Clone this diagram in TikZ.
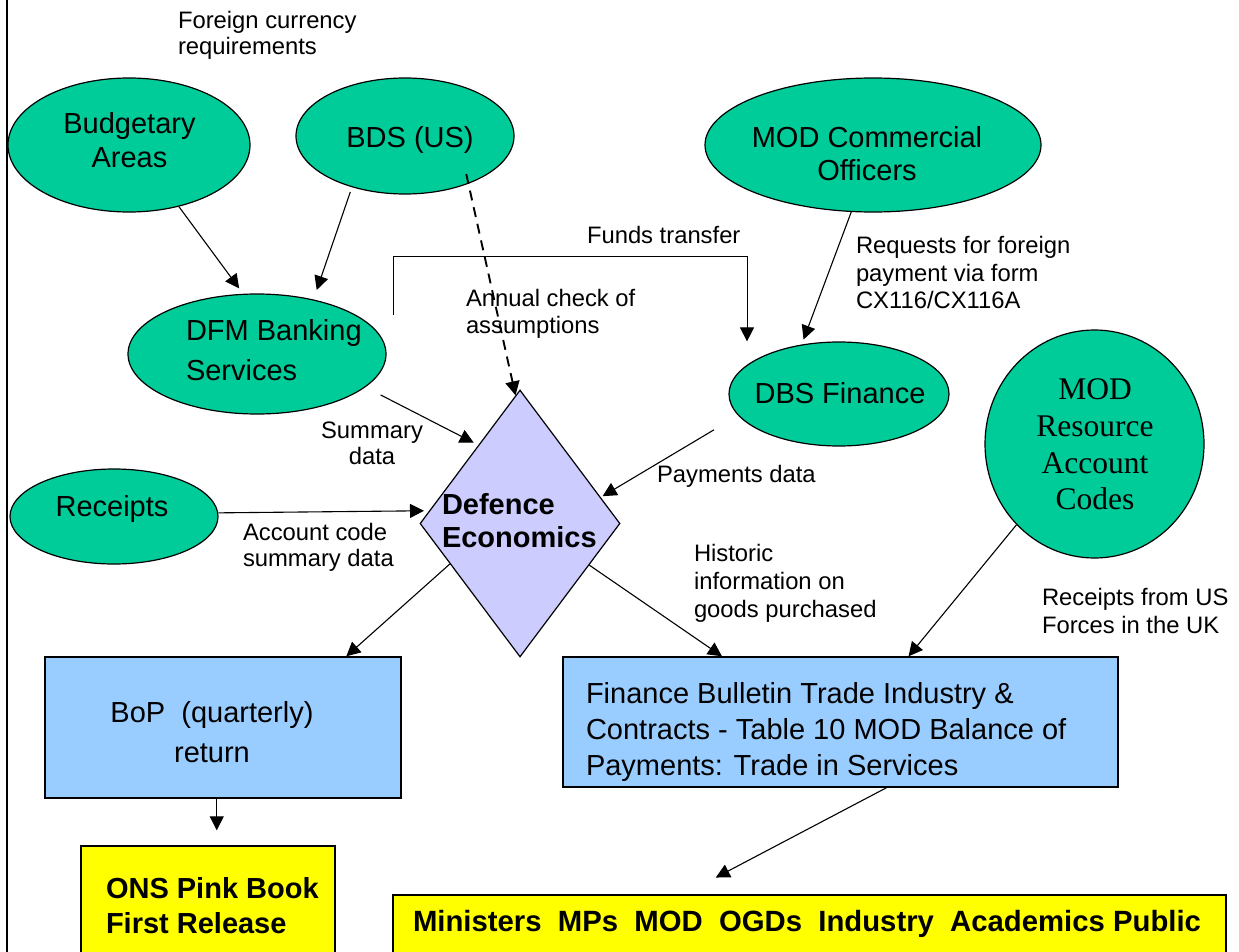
\documentclass[tikz,border=0pt]{standalone}
\usepackage{fontspec}
\setmainfont{Liberation Sans}
\newfontfamily\timesfam{Liberation Serif}
\usetikzlibrary{shapes.geometric,arrows.meta}
\definecolor{ovalgreen}{HTML}{00CC99}
\definecolor{diamondlilac}{HTML}{CCCCFF}
\definecolor{boxblue}{HTML}{99CCFF}
\definecolor{boxyellow}{HTML}{FFFF00}
\newcommand\mybigfont[1]{\fontsize{29}{#1}\selectfont}
\newcommand\mysmallfont[1]{\fontsize{23.8}{#1}\selectfont}
\begin{document}
\begin{tikzpicture}[x=1pt,y=-1pt,
  oval/.style={ellipse, draw=black, line width=1.2pt, fill=ovalgreen, inner sep=0pt},
  diam/.style={diamond, draw=black, line width=1.2pt, fill=diamondlilac, inner sep=0pt},
  bluebox/.style={rectangle, draw=black, line width=1.4pt, fill=boxblue, inner sep=0pt},
  yelbox/.style={rectangle, draw=black, line width=1.4pt, fill=boxyellow, inner sep=0pt},
  txt/.style={inner sep=0pt, outer sep=0pt, text=black},
  conn/.style={draw=black, line width=1.1pt, -{Triangle[length=14pt,width=14pt]}},
  dashconn/.style={conn, line width=1.9pt, dash pattern=on 10pt off 7pt},
]
\useasboundingbox (0,0) rectangle (1239,952);
\clip (0,0) rectangle (1239,952);
\fill[white] (0,0) rectangle (1239,952);
\draw[line width=2pt] (7,0) -- (7,952);

% shapes
\node[oval, minimum width=242pt, minimum height=134pt] (budget) at (129,145) {};
\node[oval, minimum width=218pt, minimum height=116pt] (bds) at (405,136) {};
\node[oval, minimum width=336pt, minimum height=134pt] (modcom) at (873,145) {};
\node[oval, minimum width=258pt, minimum height=120pt] (dfm) at (257,354) {};
\node[oval, minimum width=220pt, minimum height=104pt] (dbs) at (839,394) {};
\node[oval, minimum width=219pt, minimum height=228pt] (modres) at (1094.5,444) {};
\node[oval, minimum width=208pt, minimum height=95pt] (receipts) at (114,516.5) {};
\node[diam, minimum width=200pt, minimum height=267pt] (de) at (520,523.5) {};
\node[bluebox, minimum width=356pt, minimum height=141pt] (bop) at (223,727.5) {};
\node[bluebox, minimum width=555pt, minimum height=130pt] (fb) at (840.5,722) {};
\node[yelbox, minimum width=254pt, minimum height=134pt] (ons) at (208,913) {};
\node[yelbox, minimum width=833pt, minimum height=95pt] (mins) at (809.5,942.5) {};

% shape texts
\node[txt, align=center, font={\mybigfont{34}}] (budget-t) at (129.5,140) {Budgetary\\Areas};
\node[txt, font={\mybigfont{34}}] (bds-t) at (410,140) {BDS (US)};
\node[txt, align=center, font={\mybigfont{33}}] (modcom-t) at (867,153.5) {MOD Commercial\\Officers};
\node[txt, anchor=west, align=left, font={\mybigfont{40}}] (dfm-t) at (186,350) {DFM Banking\\Services};
\node[txt, font={\mybigfont{34}}] (dbs-t) at (840,393) {DBS Finance};
\node[txt, align=center, font={\timesfam\fontsize{31.5}{36.7}\selectfont}] (modres-t) at (1095,444.5) {MOD\\Resource\\Account\\Codes};
\node[txt, font={\mybigfont{34}}] (receipts-t) at (112,509) {Receipts};
\node[txt, anchor=west, align=left, font={\mybigfont{33}\bfseries}] (de-t) at (442,520.5) {Defence\\Economics};
\node[txt, align=center, font={\mybigfont{40}}] (bop-t) at (212,732) {BoP\ \ (quarterly)\\return};
\node[txt, anchor=west, align=left, font={\mybigfont{36}}] (fb-t) at (586,731.5) {Finance Bulletin Trade Industry \&\\Contracts - Table 10 MOD Balance of\\Payments: Trade in Services};
\node[txt, anchor=west, align=left, font={\mybigfont{35}\bfseries}] (ons-t) at (106,905.5) {ONS Pink Book\\First Release};
\node[txt, anchor=west, font={\fontsize{29.3}{35}\selectfont\bfseries}] (mins-t) at (413,924) {Ministers\ \ MPs\ \ MOD\ \ OGDs\ \ Industry\ \ Academics Public};

% connector labels
\node[txt, anchor=west, align=left, font={\mysmallfont{26}}] (fc-l) at (178,35) {Foreign currency\\requirements};
\node[txt, anchor=west, font={\mysmallfont{26}}] (ft-l) at (587,235) {Funds transfer};
\node[txt, anchor=west, align=left, font={\mysmallfont{27.5}}] (req-l) at (856,272.5) {Requests for foreign\\payment via form\\CX116/CX116A};
\node[txt, anchor=west, align=left, font={\mysmallfont{27}}] (ann-l) at (466,313.5) {Annual check of\\assumptions};
\node[txt, align=center, font={\mysmallfont{26}}] (sum-l) at (372,443) {Summary\\data};
\node[txt, anchor=west, font={\mysmallfont{26}}] (pay-l) at (657,476) {Payments data};
\node[txt, anchor=west, align=left, font={\mysmallfont{26}}] (acc-l) at (243,547) {Account code\\summary data};
\node[txt, anchor=west, align=left, font={\mysmallfont{28}}] (his-l) at (694,583) {Historic\\information on\\goods purchased};
\node[txt, anchor=west, align=left, font={\mysmallfont{28}}] (usf-l) at (1042,611) {Receipts from US\\Forces in the UK};

% connectors
\draw[conn, shorten >=6.6pt] (budget.-51) -- (dfm.103);
\draw[conn, shorten <=5pt, shorten >=10pt] (bds.-136) -- (dfm.44);
\draw[dashconn, shorten <=-10pt] (bds.-37) -- (de.92);
\coordinate (ftstart) at (393,315);
\coordinate (ftcorner) at (393,256);
\coordinate (ftend) at ([xshift=-92pt]dbs.north);
\draw[conn, line width=1pt] (ftstart) -- (ftcorner) -| (ftend);
\draw[conn, shorten >=5.3pt] (modcom.-108) -- (dbs.127);
\draw[conn, shorten <=17pt, shorten >=5pt] (dfm.-17) -- (de.118);
\draw[conn, shorten <=28pt, shorten >=2pt] (dbs.-168) -- (de.18.5);
\draw[conn, shorten >=5pt] (receipts.2.8) -- (de.172.5);
\draw[conn] (de.-150) -- (bop.30.2);
\draw[conn] (de.-31) -- (fb.151.3);
\draw[conn] (modres.-134) -- (fb.44);
\draw[conn, shorten >=15pt] (bop.-95) -- (bop.-95 |- ons.north);
\draw[conn, shorten >=36pt] (fb.-55.6) -- (mins.159.2);
\end{tikzpicture}
\end{document}
